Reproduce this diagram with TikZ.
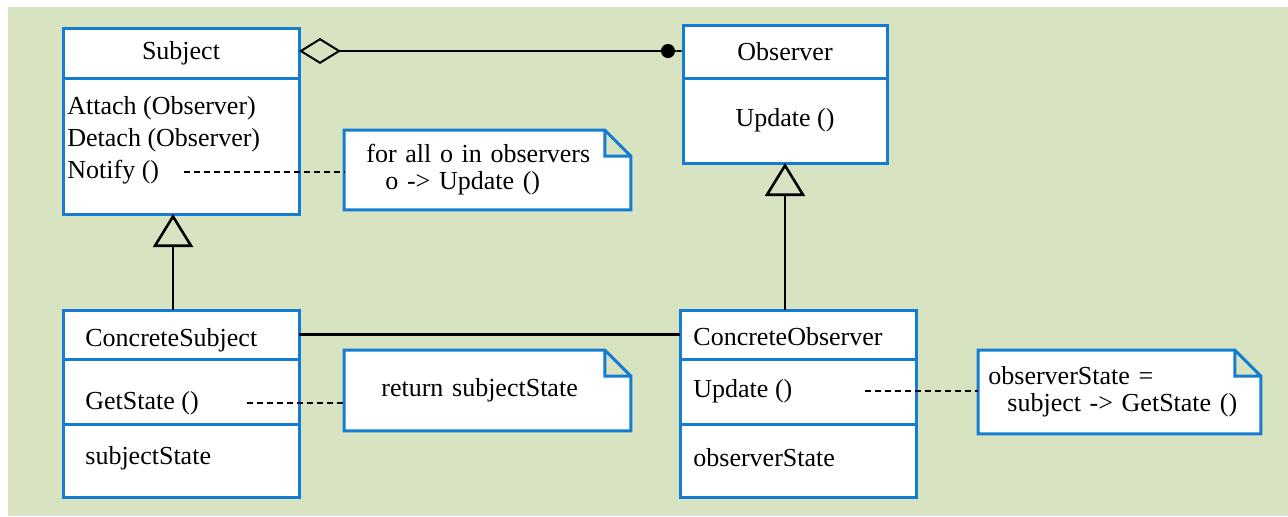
\documentclass[tikz,border=0pt]{standalone}
\usepackage{fontspec}
\setmainfont{Liberation Serif}
\usetikzlibrary{positioning,arrows.meta,backgrounds}
\definecolor{bggreen}{RGB}{216,227,193}
\definecolor{umlblue}{RGB}{20,125,210}
\tikzset{
  part/.style={draw=umlblue, line width=1.5pt, fill=white, anchor=north west, inner sep=0pt, outer sep=0pt},
  member/.style={anchor=west, inner sep=0pt},
  note/.style={anchor=north west, inner ysep=0pt, align=left, font=\fontsize{13}{13.5}\selectfont},
  notefold/.style={draw=umlblue, line width=1.5pt, fill=white, line join=miter},
  dashline/.style={dash pattern=on 3pt off 2pt, line width=1.2pt},
  inherit/.style={-{Triangle[open, length=16.5pt, width=20pt]}, line width=1.3pt},
  assoc/.style={line width=1.3pt}
}
\begin{document}
\begin{tikzpicture}[x=0.5pt, y=-0.5pt, font=\fontsize{13}{16}\selectfont]
\useasboundingbox (0,0) rectangle (1288,516);

\node[part, minimum width=118pt, minimum height=25pt] (subjname) at (63,28) {Subject};
\node[part, minimum width=118pt, minimum height=68pt, below=0pt of subjname] (subjops) {};
\node[member] (attach) at (67,108) {Attach (Observer)};
\node[member] (detach) at (67,140) {Detach (Observer)};
\node[member] (notify) at (67,172) {Notify ()};

\node[part, minimum width=102pt, minimum height=26.5pt] (obsname) at (683,25) {Observer};
\node[part, minimum width=102pt, minimum height=42.5pt, below=0pt of obsname] (obsops) {Update ()};

\node[part, minimum width=118pt, minimum height=24.5pt] (csname) at (63,310) {};
\node[part, minimum width=118pt, minimum height=32.5pt, below=0pt of csname] (csops) {};
\node[part, minimum width=118pt, minimum height=36.5pt, below=0pt of csops] (csattr) {};
\node[member] (cstitle) at (85,340) {ConcreteSubject};
\node[member] (getstate) at (85,403) {GetState ()};
\node[member] (substate) at (85,458) {subjectState};

\node[part, minimum width=118pt, minimum height=24.5pt] (coname) at (680,310) {};
\node[part, minimum width=118pt, minimum height=32.5pt, below=0pt of coname] (coops) {};
\node[part, minimum width=118pt, minimum height=36.5pt, below=0pt of coops] (coattr) {};
\node[member] (cotitle) at (693,337) {ConcreteObserver};
\node[member] (coupdate) at (693,391) {Update ()};
\node[member] (obsstate) at (693,458) {observerState};

\node[note, inner xsep=11pt, text width=121pt, minimum height=39.5pt] (loopnote) at (344,130)
  {for all o in observers\\\hspace*{9.5pt}o -> Update ()};
\node[note, inner xsep=18.5pt, text width=106pt, minimum height=40pt] (retnote) at (344,350)
  {return subjectState};
\node[note, inner xsep=5pt, text width=131pt, minimum height=41.5pt] (statenote) at (978,350)
  {observerState =\\\hspace*{9.5pt}subject -> GetState ()};

\begin{scope}[on background layer]
  \fill[bggreen] (8,7) rectangle (1288,516);
  \foreach \n in {loopnote,retnote,statenote}
    \path[notefold] (\n.south west) -- (\n.north west) -- ([xshift=-13pt]\n.north east)
      -- ([yshift=-13pt]\n.north east) -- (\n.south east) -- cycle
      ([xshift=-13pt]\n.north east) |- ([yshift=-13pt]\n.north east);
\end{scope}

\draw[assoc, {Diamond[open, length=21pt, width=13pt, line width=1pt]}-{Circle[length=7pt] Rectangle[length=4pt, width=1.3pt]}]
  ([yshift=1pt]subjname.east) -- ([yshift=1pt]subjname.east -| obsname.west);
\draw[inherit] ([xshift=-4pt]csname.north) -- ([xshift=-4pt]subjops.south);
\draw[inherit] (coname.north -| obsops.south) -- (obsops.south);
\draw[assoc] (csname.east) -- (coname.west);
\draw[dashline, shorten <=12pt] (notify.east) -- (notify.east -| loopnote.west);
\draw[dashline, shorten <=24pt] (getstate.east) -- (getstate.east -| retnote.west);
\draw[dashline, shorten <=36pt] (coupdate.east) -- (coupdate.east -| statenote.west);
\end{tikzpicture}
\end{document}
